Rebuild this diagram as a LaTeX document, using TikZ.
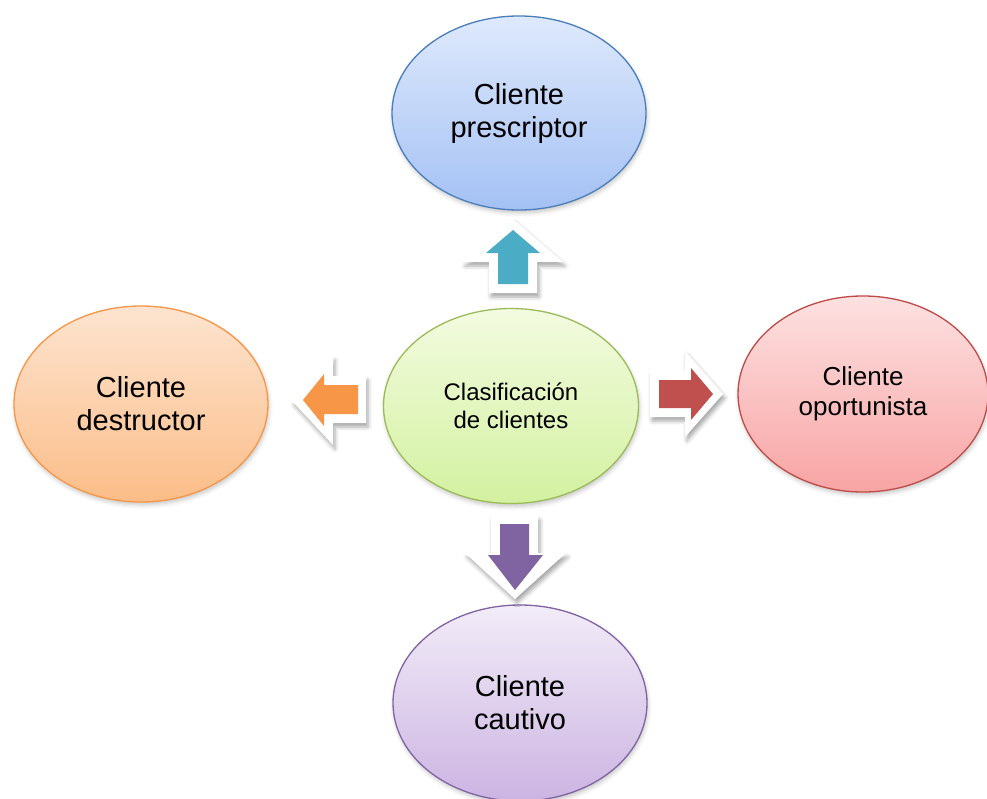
\documentclass[tikz,border=0pt]{standalone}
\usepackage{fontspec}
\setmainfont{Liberation Sans}
\usetikzlibrary{shapes.geometric,shadows.blur}

% ellipse colours: top, bottom, border
\definecolor{blueT}{HTML}{DEE9FC}\definecolor{blueB}{HTML}{A4C1F4}\definecolor{blueD}{HTML}{4A7EBB}
\definecolor{greenT}{HTML}{F3FBE0}\definecolor{greenB}{HTML}{D3F1A0}\definecolor{greenD}{HTML}{9BBB59}
\definecolor{orangeT}{HTML}{FDE4D0}\definecolor{orangeB}{HTML}{FBBD88}\definecolor{orangeD}{HTML}{F79646}
\definecolor{redT}{HTML}{FDE1E1}\definecolor{redB}{HTML}{F8A4A4}\definecolor{redD}{HTML}{BE4B48}
\definecolor{purpleT}{HTML}{F2ECF8}\definecolor{purpleB}{HTML}{CCB4E2}\definecolor{purpleD}{HTML}{8064A2}
% block-arrow fills
\definecolor{arrTeal}{HTML}{4BACC6}
\definecolor{arrOrange}{HTML}{F79646}
\definecolor{arrRed}{HTML}{C0504D}
\definecolor{arrPurple}{HTML}{8064A2}

\tikzset{
  bubble/.style={ellipse, line width=1.3pt, align=center, inner sep=0pt,
    minimum width=254pt, minimum height=196pt,
    blur shadow={shadow xshift=1pt, shadow yshift=-3pt, shadow blur radius=4pt, shadow opacity=22}},
  bigtext/.style={font=\fontsize{29}{33}\selectfont},
  midtext/.style={font=\fontsize{26}{30}\selectfont},
  smalltext/.style={font=\fontsize{24}{28}\selectfont},
  arrowframe/.style={fill=white,
    blur shadow={shadow xshift=2pt, shadow yshift=-4pt, shadow blur radius=4pt, shadow opacity=35}},
  arrowbody/.style={draw=none}
}

\begin{document}
\begin{tikzpicture}[x=1pt, y=-1pt]
\useasboundingbox (0,0) rectangle (987,798);
\clip (0,0) rectangle (987,798);

% outer bubbles
\node[bubble, bigtext, draw=blueD, top color=blueT, bottom color=blueB,
  minimum width=254pt, minimum height=194pt] (presc) at (519,113) {Cliente\\prescriptor};
\node[bubble, bigtext, draw=orangeD, top color=orangeT, bottom color=orangeB] (destr) at (141,404) {Cliente\\destructor};
\node[bubble, midtext, draw=redD, top color=redT, bottom color=redB,
  minimum width=250pt] (oport) at (863,394) {Cliente\\oportunista};
\node[bubble, bigtext, draw=purpleD, top color=purpleT, bottom color=purpleB] (cauti) at (520,703) {Cliente\\cautivo};

% central bubble
\node[bubble, smalltext, draw=greenD, top color=greenT, bottom color=greenB,
  minimum width=255pt, minimum height=195pt] (clasif) at (511,406) {Clasificación\\de clientes};

% block arrows from the centre outwards: white frame, then the coloured body
\path[arrowframe]
  (513,219) -- (563,262) -- (537,262) -- (537,293) -- (489,293) -- (489,262) -- (463,262) -- cycle;
\path[arrowbody, fill=arrTeal]
  (513,230) -- (540,253) -- (528,253) -- (528,284) -- (498,284) -- (498,253) -- (486,253) -- cycle;

\path[arrowframe]
  (723,394) -- (685,437) -- (685,417) -- (650,417) -- (650,371) -- (685,371) -- (685,351) -- cycle;
\path[arrowbody, fill=arrRed]
  (713,394) -- (691,420) -- (691,408) -- (659,408) -- (659,380) -- (691,380) -- (691,368) -- cycle;

\path[arrowframe]
  (292,401) -- (333,356) -- (333,376) -- (366,376) -- (366,423) -- (333,423) -- (333,445) -- cycle;
\path[arrowbody, fill=arrOrange]
  (303,400) -- (324,374) -- (324,385) -- (358,385) -- (358,414) -- (324,414) -- (324,426) -- cycle;

\path[arrowframe]
  (515,599) -- (465,553) -- (491,553) -- (491,516) -- (538,516) -- (538,553) -- (566,553) -- cycle;
\path[arrowbody, fill=arrPurple]
  (515,590) -- (488,555) -- (500,555) -- (500,524) -- (529,524) -- (529,555) -- (543,555) -- cycle;
\end{tikzpicture}
\end{document}
